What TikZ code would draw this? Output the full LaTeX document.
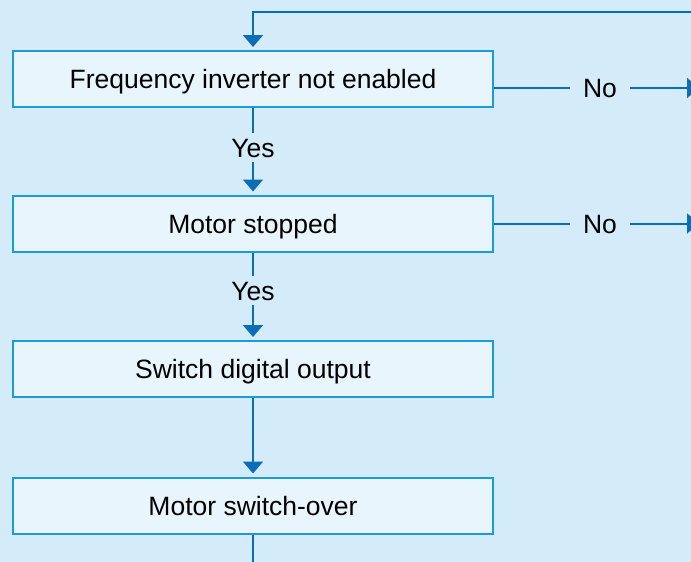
\documentclass[tikz,border=0pt]{standalone}
\usepackage{fontspec}
\setmainfont{Liberation Sans}
\usetikzlibrary{arrows.meta}
\definecolor{bgc}{HTML}{D4EBFA}
\definecolor{boxfill}{HTML}{E8F5FD}
\definecolor{boxline}{HTML}{1C9BDA}
\definecolor{connc}{HTML}{0B6DB5}
\begin{document}
\begin{tikzpicture}[x=1pt,y=-1pt,
  txt/.style={font=\fontsize{26.5}{30}\selectfont, text height=19pt, text depth=0pt},
  stepbox/.style={txt, draw=boxline, line width=2pt, fill=boxfill, minimum width=480pt, minimum height=56pt, inner sep=0pt},
  lbl/.style={txt, inner sep=0pt},
  conn/.style={draw=connc, line width=2pt},
  arr/.style={conn, -{Triangle[width=20pt,length=12pt]}, shorten >=3pt}]
\useasboundingbox (0,0) rectangle (691,562);
\fill[bgc] (0,0) rectangle (691,562);
\clip (0,0) rectangle (691,562);

\node[stepbox] (b1) at (253,79) {Frequency inverter not enabled};
\node[stepbox] (b2) at (253,223.5) {Motor stopped};
\node[stepbox] (b3) at (253,369) {Switch digital output};
\node[stepbox] (b4) at (253,505.5) {Motor switch-over};

\node[lbl, minimum height=29pt] (y1) at (253,147.5) {Yes};
\node[lbl, minimum height=28pt] (y2) at (253,290.5) {Yes};

\node[lbl, minimum width=60pt] (n1) at (600,88) {No};
\node[lbl, minimum width=60pt] (n2) at (600,223.5) {No};

\coordinate (top) at (700,12);
\coordinate (e1) at (700,88);
\coordinate (e2) at (700,223.5);
\coordinate (bot) at (253,575);

\draw[arr] (top) -| (b1.north);
\draw[conn] (b1.south) -- (y1.north);
\draw[arr] (y1.south) -- (b2.north);
\draw[conn] (b2.south) -- (y2.north);
\draw[arr] (y2.south) -- (b3.north);
\draw[arr] (b3.south) -- (b4.north);
\draw[conn] (b4.south) -- (bot);

\draw[conn] (b1.east |- n1.west) -- (n1.west);
\draw[arr, shorten >=1pt] (n1.east) -- (e1);
\draw[conn] (b2.east) -- (n2.west);
\draw[arr, shorten >=1pt] (n2.east) -- (e2);
\end{tikzpicture}
\end{document}
